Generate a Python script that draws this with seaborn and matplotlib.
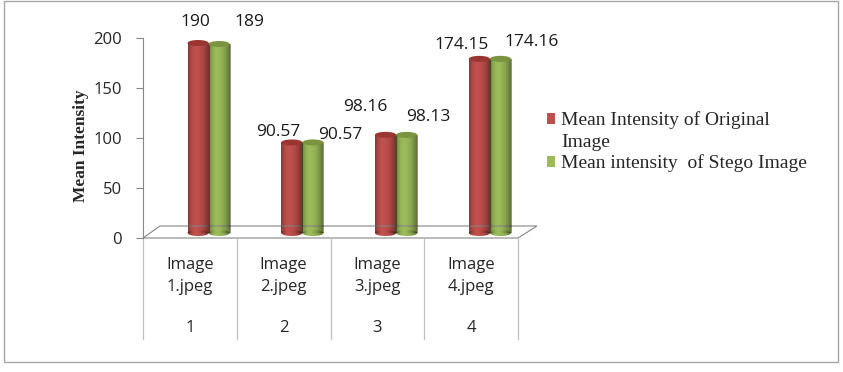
import matplotlib
matplotlib.use("Agg")
import matplotlib.pyplot as plt
from matplotlib.patches import Ellipse, Rectangle, Polygon, Patch
from matplotlib.legend_handler import HandlerPatch
import seaborn as sns
import pandas as pd
import numpy as np

# ---- data ----
images = ["Image\n1.jpeg", "Image\n2.jpeg", "Image\n3.jpeg", "Image\n4.jpeg"]
image_numbers = ["1", "2", "3", "4"]
series_names = ["Mean Intensity of Original Image", "Mean intensity  of Stego Image"]
legend_labels = ["Mean Intensity of Original\nImage", "Mean intensity  of Stego Image"]
original_values = [190, 90.57, 98.16, 174.15]
stego_values = [189, 90.57, 98.13, 174.16]
original_labels = ["190", "90.57", "98.16", "174.15"]
stego_labels = ["189", "90.57", "98.13", "174.16"]

# label offsets in pixels (layout only)
orig_dx = [-3, -14, -20, -18]
orig_dy = [21, 10, 28, 14]
stego_dx = [30, 27, 22, 31]
stego_dy = [22, 7, 18, 17]

red = "#C0504D"
green = "#9BBB59"
red_dark = "#9A3532"
green_dark = "#7A9440"
gray = "#868686"

df = pd.DataFrame({
    "image": images * 2,
    "value": original_values + stego_values,
    "series": [series_names[0]] * 4 + [series_names[1]] * 4,
})

sns.set_style("white")
plt.rcParams["font.family"] = ["Open Sans", "DejaVu Sans"]

fig = plt.figure(figsize=(8.43, 3.72), dpi=100)
ax = fig.add_axes([143 / 843, 134 / 372, 375 / 843, 200 / 372])

floor_lift = 5
sns.barplot(data=df, x="image", y="value", hue="series", palette=[red, green],
            width=0.45, gap=0, saturation=1, ax=ax, order=images,
            hue_order=series_names, legend=False, linewidth=0,
            edgecolor="none", bottom=floor_lift)

ax.set_ylim(0, 200)
ax.set_xlim(-0.7, 3.3)
ax.set_yticks([0, 50, 100, 150, 200])
ax.set_yticklabels(["0", "50", "100", "150", "200"], fontsize=12)
ax.set_xticks([i - 0.2 for i in range(len(images))])
ax.set_xticklabels(images, fontsize=12, linespacing=1.5)
ax.tick_params(axis="x", length=0, pad=14)
ax.tick_params(axis="y", length=5, width=0.8, color=gray, pad=10, left=True)
for s in ["top", "right", "bottom"]:
    ax.spines[s].set_visible(False)
ax.spines["left"].set_color(gray)
ax.spines["left"].set_linewidth(0.8)
ax.set_xlabel("")
ax.set_ylabel("Mean Intensity", fontsize=12.5, fontweight="bold",
              family=["Liberation Serif", "DejaVu Serif"])
ax.yaxis.set_label_coords(-0.145, 0.46)

# cylinder shading and caps
bars = [p for p in ax.patches if isinstance(p, Rectangle) and p.get_height() > 0]
t = np.linspace(0, 1, 64)
shade = np.zeros((1, 64, 4))
shade[0, :, 3] = np.clip(0.45 * ((t - 0.35) / 0.65) ** 2, 0, 0.45)
shade[0, :, 3] = np.where(t < 0.35, 0.45 * ((0.35 - t) / 0.35) ** 2 * 0.7, shade[0, :, 3])
ax.set_autoscale_on(False)
for p in bars:
    fc = p.get_facecolor()
    dark = red_dark if fc[0] > fc[1] else green_dark
    x0, w = p.get_x(), p.get_width()
    y0, h = p.get_y(), p.get_height()
    cx = x0 + w / 2
    bot = Ellipse((cx, y0), w, 6, facecolor=fc, edgecolor="none", zorder=1.5)
    ax.add_patch(bot)
    im = ax.imshow(shade, extent=[x0, x0 + w, y0 - 3, y0 + h], aspect="auto",
                   zorder=2.5, interpolation="bilinear")
    im.set_clip_path(p)
    im2 = ax.imshow(shade, extent=[x0, x0 + w, y0 - 3, y0 + h], aspect="auto",
                    zorder=2.5, interpolation="bilinear")
    im2.set_clip_path(bot)
    ax.add_patch(Ellipse((cx, y0 + h), w, 6, facecolor=dark, edgecolor="none", zorder=3))

# data labels
orig_bars = sorted([p for p in bars if p.get_facecolor()[0] > p.get_facecolor()[1]], key=lambda p: p.get_x())
stego_bars = sorted([p for p in bars if p.get_facecolor()[0] <= p.get_facecolor()[1]], key=lambda p: p.get_x())
for grp, labs, dxs, dys in [(orig_bars, original_labels, orig_dx, orig_dy),
                            (stego_bars, stego_labels, stego_dx, stego_dy)]:
    for p, lab, dx, dy in zip(grp, labs, dxs, dys):
        ax.annotate(lab, (p.get_x() + p.get_width() / 2, p.get_y() + p.get_height()),
                    xytext=(dx * 0.72, dy * 0.72), textcoords="offset points",
                    ha="center", va="center", fontsize=12.5, color="#1a1a1a")

# 3D floor
floor = Polygon([(0, 0), (17 / 375, 12 / 200), (394 / 375, 12 / 200), (1, 0)],
                closed=True, fill=False, edgecolor=gray, linewidth=0.8,
                transform=ax.transAxes, clip_on=False, zorder=1)
ax.add_patch(floor)

# category dividers and second row labels
tr = ax.get_xaxis_transform()
for i in range(len(images) + 1):
    ax.plot([i - 0.7, i - 0.7], [0, -0.505], color="#BFBFBF", lw=0.9,
            transform=tr, clip_on=False)
for i, n in enumerate(image_numbers):
    ax.text(i - 0.2, -0.45, n, transform=tr, ha="center", va="center", fontsize=12)


# legend
def top_square(legend, orig_handle, xdescent, ydescent, width, height, fontsize):
    return Rectangle((-xdescent, -ydescent + 0.62 * fontsize), width, height)


handles = [Patch(facecolor=red, edgecolor="none"), Patch(facecolor=green, edgecolor="none")]
leg = fig.legend(handles, legend_labels, loc="upper left",
                 bbox_to_anchor=(537 / 843, 1 - 101 / 372), frameon=False,
                 prop={"family": ["Liberation Serif", "DejaVu Serif"], "size": 14},
                 handlelength=0.45, handleheight=0.45, handletextpad=0.3,
                 labelspacing=0.15, borderpad=0,
                 handler_map={handles[0]: HandlerPatch(patch_func=top_square)})
for txt in leg.get_texts():
    txt.set_linespacing(1.45)

# outer border
fig.patches.append(Rectangle((4 / 843, 10 / 372), 834 / 843, 361 / 372,
                             transform=fig.transFigure, fill=False,
                             edgecolor="#A6A6A6", linewidth=1.0))

fig.savefig("out.png", dpi=100)
